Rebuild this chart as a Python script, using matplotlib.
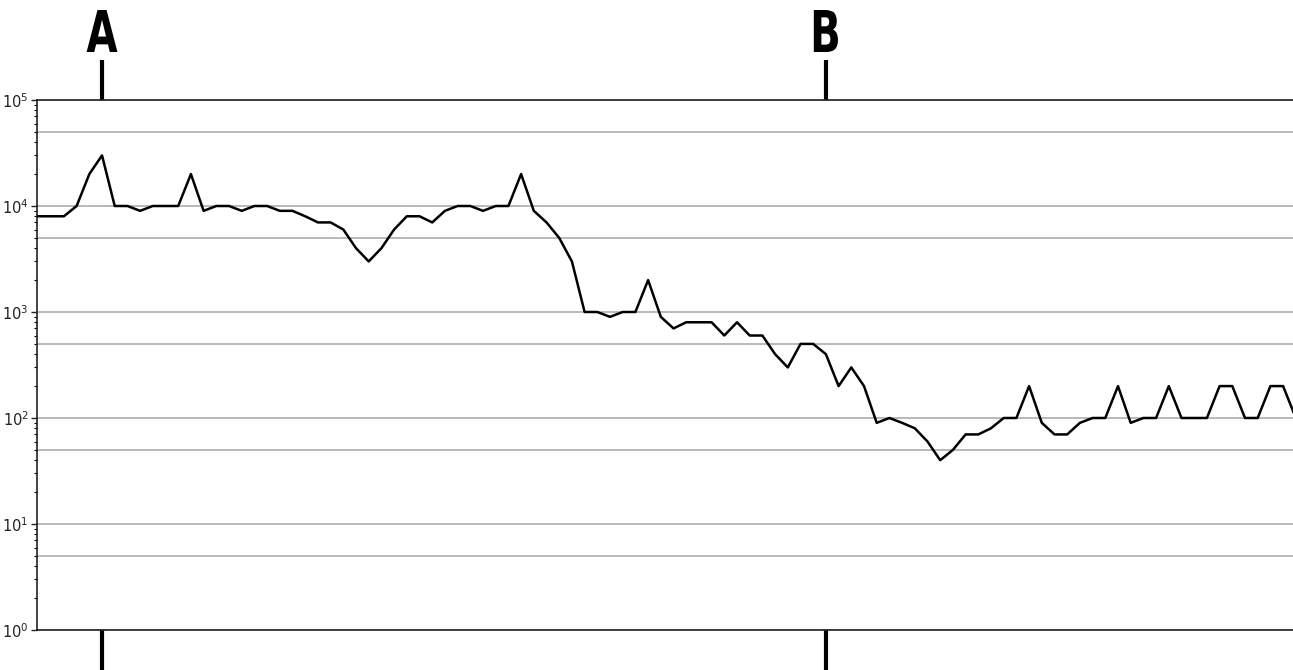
import numpy as np
import matplotlib
matplotlib.use("Agg")
import matplotlib.pyplot as plt
import matplotlib.transforms as mtransforms
from matplotlib.ticker import LogLocator, NullFormatter
from matplotlib.textpath import TextPath
from matplotlib.patches import PathPatch
from matplotlib.font_manager import FontProperties

# Werte pro Schritt (log-Skala)
values = [
    8000, 8000, 8000, 10000, 20000, 30000, 10000, 10000, 9000, 10000,
    10000, 10000, 20000, 9000, 10000, 10000, 9000, 10000, 10000, 9000,
    9000, 8000, 7000, 7000, 6000, 4000, 3000, 4000, 6000, 8000,
    8000, 7000, 9000, 10000, 10000, 9000, 10000, 10000, 20000, 9000,
    7000, 5000, 3000, 1000, 1000, 900, 1000, 1000, 2000, 900,
    700, 800, 800, 800, 600, 800, 600, 600, 400, 300,
    500, 500, 400, 200, 300, 200, 90, 100, 90, 80,
    60, 40, 50, 70, 70, 80, 100, 100, 200, 90,
    70, 70, 90, 100, 100, 200, 90, 100, 100, 200,
    100, 100, 100, 200, 200, 100, 100, 200, 200, 100,
]
marker_labels = ["A", "B"]
marker_idx = [5, 62]
grid_major = [1, 10, 100, 1000, 10000, 100000]
grid_half = [5, 50, 500, 5000, 50000]

x = np.arange(len(values))

W, H = 1293, 670
fig = plt.figure(figsize=(W / 100, H / 100), dpi=100)
ax = fig.add_axes([37 / W, 40 / H, 1 - 37 / W, 530 / H])

for g in grid_major + grid_half:
    ax.axhline(g, color="#a6a6a6", lw=1.1, zorder=1)

ax.plot(x, values, color="black", lw=1.8, zorder=3)

ax.set_yscale("log")
ax.set_ylim(1, 1e5)
ax.set_xlim(-0.12, 98.78)

ax.yaxis.set_minor_locator(LogLocator(base=10, subs=np.arange(2, 10)))
ax.yaxis.set_minor_formatter(NullFormatter())
ax.tick_params(axis="y", which="major", length=4, width=1, labelsize=10.5,
               colors="#222222", pad=2)
ax.tick_params(axis="y", which="minor", length=2, width=0.8)
ax.set_xticks([])

ax.spines["right"].set_visible(False)
for s in ["left", "top", "bottom"]:
    ax.spines[s].set_color("#222222")
    ax.spines[s].set_linewidth(1.2)

# Markierungen A / B oberhalb und unterhalb der Achse
trans = mtransforms.blended_transform_factory(ax.transData, ax.transAxes)
fp = FontProperties(family="DejaVu Sans", weight="bold")
for lab, i in zip(marker_labels, marker_idx):
    ax.plot([i, i], [1.0, 1.0 + 40 / 530], color="black", lw=3,
            transform=trans, clip_on=False, solid_capstyle="butt")
    ax.plot([i, i], [0.0, -40 / 530], color="black", lw=3,
            transform=trans, clip_on=False, solid_capstyle="butt")
    # schmale, fette Buchstaben ueber TextPath (gestaucht)
    tp = TextPath((0, 0), lab, size=100, prop=fp)
    ext = tp.get_extents()
    sy = 42 / ext.height
    sx = sy * 0.7
    xpix = ax.transData.transform((i, 1))[0]
    tr = (mtransforms.Affine2D()
          .translate(-ext.x0 - ext.width / 2, -ext.y0)
          .scale(sx, sy)
          .translate(xpix, H - 52))
    patch = PathPatch(tr.transform_path(tp), transform=mtransforms.IdentityTransform(),
                      facecolor="black", edgecolor="none")
    fig.add_artist(patch)

fig.savefig("out.png", dpi=100)
